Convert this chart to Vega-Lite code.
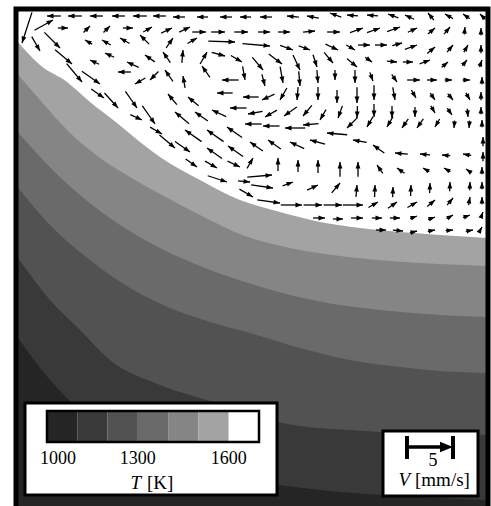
{
  "$schema": "https://vega.github.io/schema/vega-lite/v6.json",
  "width": 472,
  "height": 497,
  "autosize": {"type": "none"},
  "padding": {"left": 16, "top": 9, "right": 3, "bottom": 0},
  "background": "white",
  "config": {"view": {"stroke": null}, "text": {"font": "Liberation Serif"}},
  "datasets": {
    "one": [{}],
    "bands": [
      {"T":1500,"x":16,"y":40},{"T":1500,"x":40,"y":65},{"T":1500,"x":67,"y":82},{"T":1500,"x":90,"y":102},{"T":1500,"x":117,"y":123},{"T":1500,"x":140,"y":142},{"T":1500,"x":160,"y":157},{"T":1500,"x":200,"y":180},{"T":1500,"x":240,"y":200},{"T":1500,"x":280,"y":212},{"T":1500,"x":320,"y":222},{"T":1500,"x":360,"y":228},{"T":1500,"x":400,"y":232},{"T":1500,"x":440,"y":235},{"T":1500,"x":488,"y":238},
      {"T":1400,"x":16,"y":72},{"T":1400,"x":40,"y":100},{"T":1400,"x":70,"y":133},{"T":1400,"x":100,"y":158},{"T":1400,"x":130,"y":177},{"T":1400,"x":160,"y":194},{"T":1400,"x":200,"y":215},{"T":1400,"x":245,"y":236},{"T":1400,"x":290,"y":248},{"T":1400,"x":340,"y":256},{"T":1400,"x":390,"y":261},{"T":1400,"x":440,"y":264},{"T":1400,"x":488,"y":266},
      {"T":1300,"x":16,"y":130},{"T":1300,"x":43,"y":160},{"T":1300,"x":80,"y":195},{"T":1300,"x":120,"y":225},{"T":1300,"x":160,"y":248},{"T":1300,"x":200,"y":266},{"T":1300,"x":245,"y":282},{"T":1300,"x":290,"y":295},{"T":1300,"x":340,"y":305},{"T":1300,"x":390,"y":311},{"T":1300,"x":440,"y":315},{"T":1300,"x":488,"y":317},
      {"T":1200,"x":16,"y":185},{"T":1200,"x":50,"y":225},{"T":1200,"x":90,"y":260},{"T":1200,"x":130,"y":288},{"T":1200,"x":170,"y":308},{"T":1200,"x":210,"y":322},{"T":1200,"x":250,"y":333},{"T":1200,"x":300,"y":348},{"T":1200,"x":350,"y":360},{"T":1200,"x":400,"y":367},{"T":1200,"x":440,"y":371},{"T":1200,"x":488,"y":373},
      {"T":1100,"x":16,"y":255},{"T":1100,"x":50,"y":300},{"T":1100,"x":80,"y":330},{"T":1100,"x":110,"y":360},{"T":1100,"x":160,"y":385},{"T":1100,"x":213,"y":402},{"T":1100,"x":260,"y":418},{"T":1100,"x":300,"y":426},{"T":1100,"x":350,"y":430},{"T":1100,"x":400,"y":433},{"T":1100,"x":440,"y":434},{"T":1100,"x":488,"y":435},
      {"T":1000,"x":16,"y":335},{"T":1000,"x":50,"y":380},{"T":1000,"x":80,"y":410},{"T":1000,"x":110,"y":430},{"T":1000,"x":150,"y":450},{"T":1000,"x":200,"y":468},{"T":1000,"x":260,"y":482},{"T":1000,"x":320,"y":490},{"T":1000,"x":400,"y":496},{"T":1000,"x":488,"y":500}
    ],
    "arrows": [
      {"x":47,"y":16,"a":180,"v":1.5},{"x":68,"y":16,"a":180,"v":1.5},{"x":90,"y":16,"a":180,"v":1.4},{"x":112,"y":16,"a":180,"v":1.4},{"x":133,"y":16,"a":180,"v":1.5},{"x":153,"y":16,"a":180,"v":1.4},{"x":173,"y":17,"a":180,"v":1.3},{"x":197,"y":17,"a":180,"v":1.2},{"x":220,"y":17,"a":180,"v":1.3},{"x":240,"y":17,"a":180,"v":1.2},{"x":260,"y":17,"a":180,"v":1.3},{"x":287,"y":16,"a":185,"v":1.3},{"x":307,"y":16,"a":190,"v":1.3},{"x":330,"y":13,"a":200,"v":1.3},{"x":347,"y":15,"a":185,"v":1.2},{"x":367,"y":15,"a":185,"v":1.2},{"x":388,"y":14,"a":200,"v":1.2},{"x":405,"y":15,"a":205,"v":1.1},{"x":428,"y":13,"a":230,"v":1.0},{"x":445,"y":14,"a":210,"v":1.0},{"x":463,"y":14,"a":215,"v":0.9},{"x":480,"y":14,"a":225,"v":0.8},
      {"x":22,"y":43,"a":108,"v":3.5},{"x":53,"y":20,"a":331,"v":2.3},
      {"x":68,"y":28,"a":0,"v":1.1},{"x":90,"y":26,"a":315,"v":1.0},{"x":110,"y":26,"a":315,"v":1.0},{"x":133,"y":28,"a":0,"v":1.1},{"x":152,"y":27,"a":330,"v":1.1},{"x":172,"y":28,"a":335,"v":1.3},{"x":190,"y":27,"a":335,"v":1.3},{"x":206,"y":32,"a":0,"v":1.5},{"x":225,"y":32,"a":0,"v":1.5},{"x":248,"y":32,"a":0,"v":1.5},{"x":270,"y":32,"a":0,"v":1.3},{"x":290,"y":32,"a":0,"v":1.3},{"x":315,"y":31,"a":355,"v":1.3},{"x":340,"y":32,"a":0,"v":1.4},{"x":363,"y":28,"a":340,"v":1.5},{"x":380,"y":28,"a":340,"v":1.5},{"x":400,"y":27,"a":340,"v":1.5},{"x":417,"y":28,"a":335,"v":1.1},{"x":435,"y":28,"a":320,"v":1.0},{"x":450,"y":27,"a":310,"v":1.0},{"x":465,"y":27,"a":275,"v":0.8},{"x":481,"y":28,"a":270,"v":0.8},
      {"x":85,"y":40,"a":210,"v":0.9},{"x":102,"y":40,"a":210,"v":1.1},{"x":120,"y":38,"a":210,"v":1.2},{"x":140,"y":35,"a":225,"v":1.4},{"x":173,"y":38,"a":305,"v":1.3},{"x":197,"y":38,"a":330,"v":1.2},{"x":235,"y":42,"a":2,"v":2.9},{"x":270,"y":46,"a":5,"v":3.0},{"x":293,"y":50,"a":20,"v":1.5},{"x":310,"y":50,"a":20,"v":1.3},{"x":338,"y":50,"a":25,"v":1.5},{"x":355,"y":50,"a":30,"v":1.1},{"x":370,"y":45,"a":0,"v":1.3},{"x":387,"y":45,"a":0,"v":1.3},{"x":402,"y":43,"a":345,"v":1.1},{"x":417,"y":45,"a":340,"v":1.4},{"x":435,"y":47,"a":320,"v":1.1},{"x":453,"y":45,"a":310,"v":1.0},{"x":468,"y":45,"a":300,"v":0.9},{"x":481,"y":45,"a":270,"v":0.9},
      {"x":40,"y":51,"a":60,"v":1.8},{"x":60,"y":48,"a":45,"v":2.4},{"x":72,"y":64,"a":40,"v":2.4},{"x":82,"y":82,"a":50,"v":2.6},{"x":100,"y":84,"a":35,"v":2.4},{"x":104,"y":98,"a":35,"v":1.7},{"x":118,"y":108,"a":48,"v":2.2},{"x":137,"y":108,"a":55,"v":2.2},{"x":142,"y":120,"a":25,"v":1.4},{"x":155,"y":124,"a":55,"v":2.4},{"x":162,"y":134,"a":30,"v":1.5},{"x":175,"y":148,"a":40,"v":2.2},{"x":190,"y":152,"a":35,"v":2.0},{"x":197,"y":167,"a":35,"v":1.5},{"x":217,"y":168,"a":30,"v":1.5},{"x":240,"y":167,"a":25,"v":1.5},{"x":227,"y":182,"a":18,"v":2.2},{"x":250,"y":182,"a":5,"v":1.3},
      {"x":90,"y":60,"a":205,"v":1.1},{"x":105,"y":53,"a":205,"v":1.1},{"x":127,"y":62,"a":205,"v":1.4},{"x":145,"y":55,"a":215,"v":1.3},{"x":163,"y":52,"a":235,"v":1.4},{"x":183,"y":50,"a":275,"v":1.4},{"x":207,"y":52,"a":300,"v":1.5},{"x":225,"y":56,"a":15,"v":1.5},{"x":242,"y":62,"a":30,"v":1.4},{"x":263,"y":70,"a":50,"v":1.8},{"x":282,"y":64,"a":37,"v":1.8},{"x":300,"y":70,"a":65,"v":1.8},{"x":317,"y":67,"a":72,"v":1.4},{"x":333,"y":63,"a":50,"v":1.5},{"x":357,"y":67,"a":40,"v":1.4},{"x":372,"y":62,"a":35,"v":0.9},{"x":397,"y":62,"a":5,"v":1.1},{"x":413,"y":62,"a":0,"v":1.1},{"x":430,"y":60,"a":340,"v":1.2},{"x":448,"y":62,"a":320,"v":0.9},{"x":467,"y":60,"a":310,"v":0.8},{"x":482,"y":60,"a":290,"v":0.8},
      {"x":118,"y":72,"a":180,"v":1.4},{"x":135,"y":84,"a":150,"v":1.3},{"x":150,"y":80,"a":135,"v":1.3},{"x":165,"y":70,"a":235,"v":1.5},{"x":183,"y":76,"a":260,"v":1.3},{"x":202,"y":66,"a":235,"v":1.5},{"x":222,"y":80,"a":180,"v":1.8},{"x":245,"y":80,"a":80,"v":1.5},{"x":265,"y":86,"a":75,"v":1.3},{"x":283,"y":83,"a":80,"v":1.8},{"x":300,"y":86,"a":85,"v":1.6},{"x":318,"y":83,"a":85,"v":1.4},{"x":335,"y":80,"a":90,"v":1.1},{"x":355,"y":83,"a":90,"v":1.4},{"x":373,"y":81,"a":70,"v":1.0},{"x":397,"y":82,"a":55,"v":1.0},{"x":420,"y":80,"a":0,"v":1.4},{"x":437,"y":80,"a":0,"v":1.1},{"x":452,"y":80,"a":0,"v":0.8},{"x":470,"y":80,"a":0,"v":0.8},{"x":482,"y":77,"a":270,"v":0.8},
      {"x":168,"y":94,"a":230,"v":1.5},{"x":188,"y":97,"a":220,"v":1.5},{"x":217,"y":93,"a":180,"v":1.7},{"x":243,"y":97,"a":180,"v":1.7},{"x":262,"y":100,"a":155,"v":1.5},{"x":280,"y":100,"a":120,"v":1.5},{"x":297,"y":100,"a":95,"v":1.4},{"x":318,"y":100,"a":90,"v":1.4},{"x":337,"y":103,"a":90,"v":1.4},{"x":357,"y":103,"a":90,"v":1.7},{"x":374,"y":100,"a":90,"v":1.6},{"x":395,"y":100,"a":80,"v":1.4},{"x":416,"y":98,"a":60,"v":1.0},{"x":435,"y":100,"a":55,"v":0.9},{"x":453,"y":100,"a":50,"v":0.9},{"x":470,"y":100,"a":60,"v":0.9},{"x":481,"y":92,"a":270,"v":0.9},
      {"x":175,"y":112,"a":220,"v":2.0},{"x":195,"y":112,"a":215,"v":1.7},{"x":212,"y":110,"a":205,"v":1.7},{"x":230,"y":108,"a":180,"v":1.8},{"x":248,"y":114,"a":170,"v":1.6},{"x":265,"y":117,"a":150,"v":1.5},{"x":284,"y":116,"a":145,"v":1.7},{"x":303,"y":116,"a":130,"v":1.5},{"x":320,"y":120,"a":120,"v":1.3},{"x":338,"y":118,"a":110,"v":1.4},{"x":357,"y":118,"a":92,"v":1.3},{"x":374,"y":117,"a":90,"v":1.4},{"x":392,"y":118,"a":90,"v":1.3},{"x":415,"y":117,"a":90,"v":1.1},{"x":435,"y":113,"a":60,"v":0.9},{"x":452,"y":115,"a":55,"v":0.9},{"x":468,"y":117,"a":85,"v":0.9},{"x":481,"y":107,"a":270,"v":0.8},
      {"x":185,"y":130,"a":215,"v":2.2},{"x":207,"y":130,"a":215,"v":2.2},{"x":227,"y":127,"a":215,"v":2.0},{"x":245,"y":124,"a":180,"v":1.8},{"x":263,"y":126,"a":180,"v":1.8},{"x":285,"y":128,"a":180,"v":2.2},{"x":303,"y":125,"a":175,"v":1.7},{"x":327,"y":133,"a":185,"v":2.2},{"x":347,"y":128,"a":135,"v":1.6},{"x":367,"y":127,"a":120,"v":1.3},{"x":387,"y":127,"a":120,"v":1.3},{"x":402,"y":128,"a":125,"v":1.2},{"x":417,"y":128,"a":125,"v":1.2},{"x":435,"y":127,"a":120,"v":1.0},{"x":454,"y":128,"a":95,"v":0.8},{"x":469,"y":128,"a":95,"v":0.8},{"x":482,"y":120,"a":270,"v":0.8},
      {"x":207,"y":148,"a":215,"v":2.0},{"x":228,"y":146,"a":215,"v":2.0},{"x":250,"y":142,"a":215,"v":1.7},{"x":268,"y":140,"a":215,"v":1.7},{"x":290,"y":142,"a":205,"v":1.7},{"x":310,"y":140,"a":195,"v":1.7},{"x":353,"y":140,"a":190,"v":1.5},{"x":373,"y":145,"a":215,"v":1.5},{"x":395,"y":153,"a":185,"v":1.4},{"x":420,"y":154,"a":185,"v":1.1},{"x":442,"y":155,"a":185,"v":0.9},{"x":463,"y":154,"a":190,"v":0.9},{"x":483,"y":137,"a":270,"v":1.0},{"x":483,"y":152,"a":270,"v":1.0},
      {"x":253,"y":158,"a":300,"v":1.3},{"x":278,"y":158,"a":270,"v":1.4},{"x":298,"y":160,"a":270,"v":1.3},{"x":318,"y":160,"a":270,"v":1.4},{"x":340,"y":162,"a":270,"v":1.6},{"x":358,"y":162,"a":270,"v":1.6},{"x":377,"y":165,"a":235,"v":1.1},{"x":397,"y":168,"a":215,"v":1.0},{"x":423,"y":168,"a":210,"v":0.8},{"x":444,"y":168,"a":210,"v":0.8},{"x":466,"y":169,"a":215,"v":0.7},{"x":482,"y":167,"a":270,"v":0.8},
      {"x":272,"y":175,"a":355,"v":2.7},{"x":273,"y":188,"a":8,"v":2.4},{"x":293,"y":182,"a":340,"v":1.2},{"x":318,"y":185,"a":335,"v":1.3},{"x":340,"y":183,"a":310,"v":1.4},{"x":357,"y":185,"a":275,"v":1.3},{"x":375,"y":185,"a":272,"v":1.3},{"x":393,"y":187,"a":272,"v":1.1},{"x":411,"y":185,"a":272,"v":1.2},{"x":430,"y":183,"a":272,"v":1.1},{"x":450,"y":182,"a":272,"v":1.0},{"x":470,"y":182,"a":272,"v":0.9},{"x":482,"y":182,"a":270,"v":0.8},
      {"x":253,"y":197,"a":30,"v":1.7},{"x":280,"y":203,"a":8,"v":2.5},{"x":302,"y":205,"a":0,"v":2.3},{"x":322,"y":205,"a":0,"v":2.0},{"x":342,"y":205,"a":0,"v":2.0},{"x":363,"y":205,"a":0,"v":2.2},{"x":378,"y":202,"a":330,"v":1.2},{"x":397,"y":202,"a":325,"v":1.2},{"x":417,"y":202,"a":330,"v":1.2},{"x":435,"y":200,"a":320,"v":1.1},{"x":453,"y":198,"a":310,"v":1.0},{"x":470,"y":197,"a":280,"v":0.9},{"x":482,"y":197,"a":270,"v":0.8},
      {"x":325,"y":218,"a":0,"v":1.3},{"x":343,"y":219,"a":0,"v":1.1},{"x":363,"y":218,"a":0,"v":1.3},{"x":382,"y":218,"a":0,"v":1.1},{"x":400,"y":218,"a":0,"v":1.1},{"x":417,"y":216,"a":340,"v":0.8},{"x":435,"y":217,"a":340,"v":0.8},{"x":453,"y":215,"a":330,"v":0.8},{"x":470,"y":215,"a":340,"v":0.8},{"x":483,"y":212,"a":290,"v":0.7},
      {"x":386,"y":230,"a":0,"v":1.1},{"x":403,"y":231,"a":5,"v":1.1},{"x":417,"y":231,"a":345,"v":0.8},{"x":435,"y":230,"a":350,"v":0.8},{"x":453,"y":230,"a":355,"v":0.8},{"x":473,"y":230,"a":350,"v":0.8},{"x":482,"y":227,"a":300,"v":0.7}
    ],
    "swatches": [
      {"T":1000,"T2":1100},{"T":1100,"T2":1200},{"T":1200,"T2":1300},{"T":1300,"T2":1400},{"T":1400,"T2":1500},{"T":1500,"T2":1600},{"T":1600,"T2":1700}
    ]
  },
  "resolve": {"scale": {"x": "independent"}},
  "layer": [
    {
      "layer": [
        {
          "data": {"name": "bands"},
          "mark": {"type": "area", "interpolate": "monotone", "orient": "vertical"},
          "encoding": {
            "x": {"field": "x", "type": "quantitative", "scale": {"domain": [16, 488], "nice": false, "zero": false}, "axis": null},
            "y": {"field": "y", "type": "quantitative", "scale": {"domain": [9, 506], "reverse": true, "nice": false, "zero": false}, "axis": null, "stack": null},
            "y2": {"datum": 506},
            "color": {"field": "T", "type": "ordinal", "scale": {"domain": [1000,1100,1200,1300,1400,1500,1600], "range": ["#252525","#393939","#525252","#6a6a6a","#858585","#a3a3a3","#ffffff"]}, "legend": null}
          }
        },
        {
          "data": {"name": "arrows"},
          "mark": {"type": "point", "shape": "M0,0L-2,0", "filled": false, "stroke": "black", "strokeWidth": 1.3, "opacity": 1},
          "encoding": {
            "x": {"field": "x", "type": "quantitative", "scale": {"domain": [16, 488], "nice": false, "zero": false}, "axis": null},
            "y": {"field": "y", "type": "quantitative", "scale": {"domain": [9, 506], "reverse": true, "nice": false, "zero": false}, "axis": null},
            "angle": {"field": "a", "type": "quantitative", "scale": null},
            "size": {"field": "v", "type": "quantitative", "scale": {"type": "pow", "exponent": 2, "domain": [0, 5], "range": [0, 2116]}, "legend": null}
          }
        },
        {
          "data": {"name": "arrows"},
          "mark": {"type": "point", "shape": "M0,0L-2,-0.75L-2,0.75Z", "filled": true, "fill": "black", "strokeWidth": 0, "size": 42, "opacity": 1},
          "encoding": {
            "x": {"field": "x", "type": "quantitative", "scale": {"domain": [16, 488], "nice": false, "zero": false}, "axis": null},
            "y": {"field": "y", "type": "quantitative", "scale": {"domain": [9, 506], "reverse": true, "nice": false, "zero": false}, "axis": null},
            "angle": {"field": "a", "type": "quantitative", "scale": null}
          }
        },
        {
          "data": {"name": "one"},
          "mark": {"type": "rect", "fill": "white", "stroke": "black", "strokeWidth": 3},
          "encoding": {
            "x": {"datum": 25, "type": "quantitative", "scale": {"domain": [16, 488], "nice": false, "zero": false}, "axis": null},
            "x2": {"datum": 277},
            "y": {"datum": 403, "type": "quantitative", "scale": {"domain": [9, 506], "reverse": true, "nice": false, "zero": false}, "axis": null},
            "y2": {"datum": 495}
          }
        },
        {
          "data": {"name": "one"},
          "mark": {"type": "rect", "fill": "white", "stroke": "black", "strokeWidth": 3},
          "encoding": {
            "x": {"datum": 383, "type": "quantitative", "scale": {"domain": [16, 488], "nice": false, "zero": false}, "axis": null},
            "x2": {"datum": 478},
            "y": {"datum": 431, "type": "quantitative", "scale": {"domain": [9, 506], "reverse": true, "nice": false, "zero": false}, "axis": null},
            "y2": {"datum": 496}
          }
        },
        {
          "data": {"name": "one"},
          "mark": {"type": "rule", "stroke": "black", "strokeWidth": 3.5},
          "encoding": {
            "x": {"datum": 407, "type": "quantitative", "scale": {"domain": [16, 488], "nice": false, "zero": false}, "axis": null},
            "x2": {"datum": 444},
            "y": {"datum": 447, "type": "quantitative", "scale": {"domain": [9, 506], "reverse": true, "nice": false, "zero": false}, "axis": null}
          }
        },
        {
          "data": {"values": [{"end": 407}, {"end": 453}]},
          "mark": {"type": "rule", "stroke": "black", "strokeWidth": 4},
          "encoding": {
            "x": {"field": "end", "type": "quantitative", "scale": {"domain": [16, 488], "nice": false, "zero": false}, "axis": null},
            "y": {"datum": 436, "type": "quantitative", "scale": {"domain": [9, 506], "reverse": true, "nice": false, "zero": false}, "axis": null},
            "y2": {"datum": 459}
          }
        },
        {
          "data": {"name": "one"},
          "mark": {"type": "point", "shape": "M0,0L-2,-0.8L-2,0.8Z", "filled": true, "fill": "black", "strokeWidth": 0, "size": 169, "opacity": 1},
          "encoding": {
            "x": {"datum": 453, "type": "quantitative", "scale": {"domain": [16, 488], "nice": false, "zero": false}, "axis": null},
            "y": {"datum": 447, "type": "quantitative", "scale": {"domain": [9, 506], "reverse": true, "nice": false, "zero": false}, "axis": null}
          }
        },
        {
          "data": {"name": "one"},
          "mark": {"type": "text", "text": "5", "fontSize": 18, "align": "center", "baseline": "alphabetic", "color": "black"},
          "encoding": {
            "x": {"datum": 433, "type": "quantitative", "scale": {"domain": [16, 488], "nice": false, "zero": false}, "axis": null},
            "y": {"datum": 466, "type": "quantitative", "scale": {"domain": [9, 506], "reverse": true, "nice": false, "zero": false}, "axis": null}
          }
        },
        {
          "data": {"name": "one"},
          "mark": {"type": "text", "text": "V", "fontSize": 19, "fontStyle": "italic", "align": "right", "baseline": "alphabetic", "color": "black"},
          "encoding": {
            "x": {"datum": 410, "type": "quantitative", "scale": {"domain": [16, 488], "nice": false, "zero": false}, "axis": null},
            "y": {"datum": 486, "type": "quantitative", "scale": {"domain": [9, 506], "reverse": true, "nice": false, "zero": false}, "axis": null}
          }
        },
        {
          "data": {"name": "one"},
          "mark": {"type": "text", "text": "[mm/s]", "fontSize": 19, "align": "left", "baseline": "alphabetic", "color": "black"},
          "encoding": {
            "x": {"datum": 415, "type": "quantitative", "scale": {"domain": [16, 488], "nice": false, "zero": false}, "axis": null},
            "y": {"datum": 486, "type": "quantitative", "scale": {"domain": [9, 506], "reverse": true, "nice": false, "zero": false}, "axis": null}
          }
        },
        {
          "data": {"name": "one"},
          "mark": {"type": "rect", "fillOpacity": 0, "stroke": "black", "strokeWidth": 5},
          "encoding": {
            "x": {"datum": 16, "type": "quantitative", "scale": {"domain": [16, 488], "nice": false, "zero": false}, "axis": null},
            "x2": {"datum": 488},
            "y": {"datum": 9, "type": "quantitative", "scale": {"domain": [9, 506], "reverse": true, "nice": false, "zero": false}, "axis": null},
            "y2": {"datum": 520}
          }
        }
      ]
    },
    {
      "layer": [
        {
          "data": {"name": "swatches"},
          "mark": {"type": "rect"},
          "encoding": {
            "x": {"field": "T", "type": "quantitative", "scale": {"domain": [1000, 1700], "range": [31, 243], "nice": false, "zero": false}, "axis": null},
            "x2": {"field": "T2"},
            "y": {"datum": 411, "type": "quantitative", "scale": {"domain": [9, 506], "reverse": true, "nice": false, "zero": false}, "axis": null},
            "y2": {"datum": 442},
            "color": {"field": "T", "type": "ordinal", "scale": {"domain": [1000,1100,1200,1300,1400,1500,1600], "range": ["#252525","#393939","#525252","#6a6a6a","#858585","#a3a3a3","#ffffff"]}, "legend": null}
          }
        },
        {
          "data": {"name": "one"},
          "mark": {"type": "rect", "fillOpacity": 0, "stroke": "black", "strokeWidth": 2.5},
          "encoding": {
            "x": {"datum": 1000, "type": "quantitative", "scale": {"domain": [1000, 1700], "range": [31, 243], "nice": false, "zero": false}, "axis": null},
            "x2": {"datum": 1700},
            "y": {"datum": 411, "type": "quantitative", "scale": {"domain": [9, 506], "reverse": true, "nice": false, "zero": false}, "axis": null},
            "y2": {"datum": 442}
          }
        },
        {
          "data": {"values": [{"T": 1000}]},
          "mark": {"type": "text", "fontSize": 18, "align": "left", "dx": -7, "baseline": "alphabetic", "color": "black"},
          "encoding": {
            "x": {"field": "T", "type": "quantitative", "scale": {"domain": [1000, 1700], "range": [31, 243], "nice": false, "zero": false}, "axis": null},
            "y": {"datum": 464, "type": "quantitative", "scale": {"domain": [9, 506], "reverse": true, "nice": false, "zero": false}, "axis": null},
            "text": {"field": "T", "type": "quantitative", "format": "d"}
          }
        },
        {
          "data": {"values": [{"T": 1300}, {"T": 1600}]},
          "mark": {"type": "text", "fontSize": 18, "align": "center", "baseline": "alphabetic", "color": "black"},
          "encoding": {
            "x": {"field": "T", "type": "quantitative", "scale": {"domain": [1000, 1700], "range": [31, 243], "nice": false, "zero": false}, "axis": null},
            "y": {"datum": 464, "type": "quantitative", "scale": {"domain": [9, 506], "reverse": true, "nice": false, "zero": false}, "axis": null},
            "text": {"field": "T", "type": "quantitative", "format": "d"}
          }
        },
        {
          "data": {"name": "one"},
          "mark": {"type": "text", "text": "T", "fontSize": 19, "fontStyle": "italic", "align": "right", "dx": -12, "baseline": "alphabetic", "color": "black"},
          "encoding": {
            "x": {"datum": 1350, "type": "quantitative", "scale": {"domain": [1000, 1700], "range": [31, 243], "nice": false, "zero": false}, "axis": null},
            "y": {"datum": 489, "type": "quantitative", "scale": {"domain": [9, 506], "reverse": true, "nice": false, "zero": false}, "axis": null}
          }
        },
        {
          "data": {"name": "one"},
          "mark": {"type": "text", "text": "[K]", "fontSize": 19, "align": "left", "dx": -6, "baseline": "alphabetic", "color": "black"},
          "encoding": {
            "x": {"datum": 1350, "type": "quantitative", "scale": {"domain": [1000, 1700], "range": [31, 243], "nice": false, "zero": false}, "axis": null},
            "y": {"datum": 489, "type": "quantitative", "scale": {"domain": [9, 506], "reverse": true, "nice": false, "zero": false}, "axis": null}
          }
        }
      ]
    }
  ]
}
